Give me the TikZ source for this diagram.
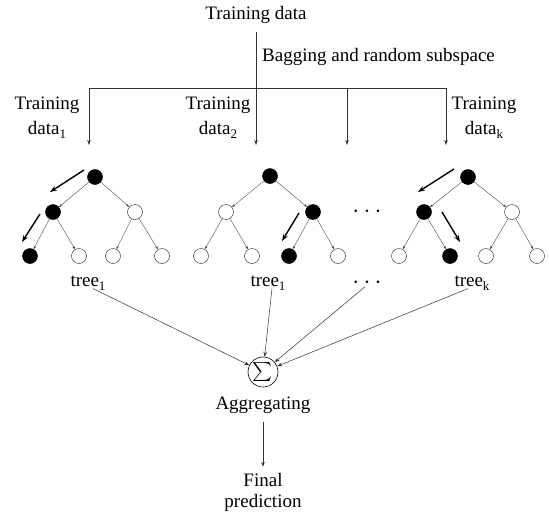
\documentclass[tikz,border=0pt]{standalone}
\usepackage{fontspec}
\usepackage{graphicx}
\setmainfont{Liberation Serif}
\usetikzlibrary{arrows.meta}
\newcommand{\mysub}[1]{\raisebox{-4pt}{\fontsize{13}{13}\selectfont #1}}
\begin{document}
\begin{tikzpicture}[x=1pt,y=-1pt,
  lbl/.style={font=\fontsize{19}{25}\selectfont, inner sep=2pt, align=center},
  bnode/.style={circle,draw=black,fill=black,minimum size=15pt,inner sep=0pt,line width=0.5pt},
  wnode/.style={circle,draw=black!75,fill=white,minimum size=15pt,inner sep=0pt,line width=0.5pt},
  tedge/.style={draw=black!70,line width=0.4pt,-{Stealth[length=3.5pt,width=2.5pt]}},
  conn/.style={draw=black!80,line width=0.5pt,-{Stealth[length=5pt,width=3.5pt]}},
  thickarr/.style={draw=black,line width=1.4pt,-{Stealth[length=7pt,width=5pt]}}
]
\useasboundingbox (0,0) rectangle (549,515);

% top
\node[lbl] (top) at (256,15) {Training data};
\node[lbl,anchor=west] (bag) at (260,57) {Bagging and random subspace};
\coordinate (j) at (256,88);
\coordinate (h1) at (89,88);
\coordinate (h3) at (347,88);
\coordinate (h4) at (446,88);
\coordinate (e1) at (89,145);
\coordinate (e2) at (256,145);
\coordinate (e3) at (347,145);
\coordinate (e4) at (446,145);
\draw[black!80,line width=0.5pt] (top.south) ++(0,6) -- (j);
\draw[black!80,line width=0.5pt] (h1) -- (h4);
\draw[conn] (h1) -- (e1);
\draw[conn] (j) -- (e2);
\draw[conn] (h3) -- (e3);
\draw[conn] (h4) -- (e4);

\node[lbl] (td1) at (47,118) {Training\\data\mysub{1}};
\node[lbl] (td2) at (218,118) {Training\\data\mysub{2}};
\node[lbl] (tdk) at (484,118) {Training\\data\mysub{k}};

% tree 1
\node[bnode] (r1) at (95,177) {};
\node[bnode] (a1) at (53,212) {};
\node[wnode] (b1) at (135,212) {};
\node[bnode] (c1) at (30,256) {};
\node[wnode] (d1) at (79,256) {};
\node[wnode] (e1n) at (113,256) {};
\node[wnode] (f1) at (162,256) {};
\draw[tedge] (r1) -- (a1);
\draw[tedge] (r1) -- (b1);
\draw[tedge] (a1) -- (c1);
\draw[tedge] (a1) -- (d1);
\draw[tedge] (b1) -- (e1n);
\draw[tedge] (b1) -- (f1);
\coordinate (p1s) at (84,170);
\coordinate (p1e) at (50,192);
\coordinate (p2s) at (40,214);
\coordinate (p2e) at (22,242);
\draw[thickarr] (p1s) -- (p1e);
\draw[thickarr] (p2s) -- (p2e);

% tree 2
\node[bnode] (r2) at (270,176) {};
\node[wnode] (a2) at (226,212) {};
\node[bnode] (b2) at (313,212) {};
\node[wnode] (c2) at (201,256) {};
\node[wnode] (d2) at (252,256) {};
\node[bnode] (e2n) at (289,256) {};
\node[wnode] (f2) at (338,256) {};
\draw[tedge] (r2) -- (a2);
\draw[tedge] (r2) -- (b2);
\draw[tedge] (a2) -- (c2);
\draw[tedge] (a2) -- (d2);
\draw[tedge] (b2) -- (e2n);
\draw[tedge] (b2) -- (f2);
\coordinate (q1s) at (299,213);
\coordinate (q1e) at (282,241);
\draw[thickarr] (q1s) -- (q1e);

% tree k
\node[bnode] (rk) at (468,177) {};
\node[bnode] (ak) at (424,212) {};
\node[wnode] (bk) at (512,212) {};
\node[wnode] (ck) at (399,256) {};
\node[bnode] (dk) at (450,256) {};
\node[wnode] (ek) at (486,256) {};
\node[wnode] (fk) at (537,256) {};
\draw[tedge] (rk) -- (ak);
\draw[tedge] (rk) -- (bk);
\draw[tedge] (ak) -- (ck);
\draw[tedge] (ak) -- (dk);
\draw[tedge] (bk) -- (ek);
\draw[tedge] (bk) -- (fk);
\coordinate (k1s) at (454,169);
\coordinate (k1e) at (418,192);
\coordinate (k2s) at (442,212);
\coordinate (k2e) at (460,242);
\draw[thickarr] (k1s) -- (k1e);
\draw[thickarr] (k2s) -- (k2e);

% dots
\node[lbl,font=\fontsize{26}{26}\selectfont] (dots1) at (367,212) {$\cdots$};
\node[lbl,font=\fontsize{26}{26}\selectfont] (dots2) at (367,283) {$\cdots$};

% tree labels
\node[lbl] (t1) at (88,283) {tree\mysub{1}};
\node[lbl] (t2) at (268,283) {tree\mysub{1}};
\node[lbl] (tk) at (472,283) {tree\mysub{k}};

% aggregation
\node[circle,draw=black,line width=0.6pt,minimum size=30pt,inner sep=0pt] (sum) at (263,372) {\scalebox{1.9}{$\sum$}};
\node[lbl] (agg) at (263,405) {Aggregating};
\node[lbl] (fin) at (263,492) {Final\\[-4pt]prediction};

\draw[conn] ([xshift=5pt,yshift=4pt]t1.south) -- (sum);
\draw[conn] ([xshift=4pt,yshift=4pt]t2.south) -- (sum);
\draw[conn] ([xshift=-2pt,yshift=4pt]dots2.south) -- (sum);
\draw[conn] ([xshift=-4pt,yshift=4pt]tk.south) -- (sum);
\draw[conn] ([yshift=-6pt]agg.south) -- ([yshift=4pt]fin.north);
\end{tikzpicture}
\end{document}
